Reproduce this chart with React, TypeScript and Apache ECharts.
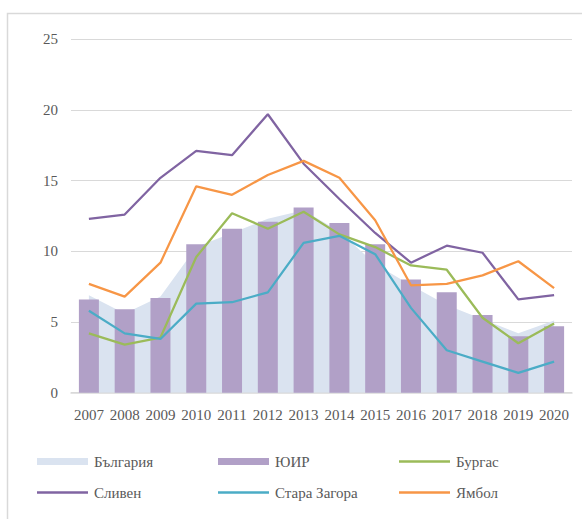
import React, { useEffect, useRef } from "react";
import * as echarts from "echarts";

const years = ["2007", "2008", "2009", "2010", "2011", "2012", "2013", "2014", "2015", "2016", "2017", "2018", "2019", "2020"];
const bulgaria = [6.9, 5.6, 6.8, 10.3, 11.3, 12.3, 12.9, 11.4, 9.1, 7.6, 6.2, 5.2, 4.2, 5.1];
const yuir = [6.6, 5.9, 6.7, 10.5, 11.6, 12.1, 13.1, 12.0, 10.5, 8.0, 7.1, 5.5, 4.0, 4.7];
const burgas = [4.2, 3.4, 3.9, 9.6, 12.7, 11.6, 12.8, 11.2, 10.3, 9.0, 8.7, 5.3, 3.5, 4.9];
const sliven = [12.3, 12.6, 15.2, 17.1, 16.8, 19.7, 16.2, 13.7, 11.3, 9.2, 10.4, 9.9, 6.6, 6.9];
const staraZagora = [5.8, 4.2, 3.8, 6.3, 6.4, 7.1, 10.6, 11.1, 9.8, 6.0, 3.0, 2.2, 1.4, 2.2];
const yambol = [7.7, 6.8, 9.2, 14.6, 14.0, 15.4, 16.4, 15.2, 12.2, 7.6, 7.7, 8.3, 9.3, 7.4];

const FONT = "Liberation Serif";
const TEXT = "#595959";
const GRID = "#d9d9d9";

const C_BG = "#dae3f0";
const C_YUIR = "#b1a0c7";
const C_BURGAS = "#9bbb59";
const C_SLIVEN = "#8064a2";
const C_SZ = "#4bacc6";
const C_YAMBOL = "#f79646";

const LINE_ICON = "path://M0,0H51V2.4H0Z";

export default function App() {
  const ref = useRef<HTMLDivElement>(null);
  useEffect(() => {
    if (!ref.current) return;
    const chart = echarts.init(ref.current, null, { renderer: "svg" });
    const legendBase = (name: string, left: number, top: number, icon: string) => ({
      left,
      top,
      orient: "horizontal",
      itemWidth: 51,
      itemHeight: 7,
      itemGap: 0,
      padding: 0,
      selectedMode: false,
      textStyle: { fontFamily: FONT, fontSize: 15, color: TEXT, fontWeight: "normal", padding: [0, 0, 0, 1] },
      data: [{ name, icon }],
    });
    const lineSeries = (name: string, data: number[], color: string) => ({
      name,
      type: "line",
      data,
      symbol: "none",
      color,
      itemStyle: { color },
      lineStyle: { width: 2.25, color },
      z: 3,
    });
    chart.setOption({
      animation: false,
      backgroundColor: "#ffffff",
      textStyle: { fontFamily: FONT },
      grid: { left: 71, right: 10, top: 39.3, bottom: 126.3, containLabel: false },
      graphic: [
        {
          type: "rect",
          shape: { x: 7.5, y: 13.5, width: 700, height: 700 },
          style: { fill: "none", stroke: GRID, lineWidth: 1.5 },
          silent: true,
        },
      ],
      legend: [
        legendBase("България", 37, 454, "rect"),
        legendBase("Сливен", 37, 485, LINE_ICON),
        legendBase("ЮИР", 218, 454, "rect"),
        legendBase("Стара Загора", 218, 485, LINE_ICON),
        legendBase("Бургас", 399, 454, LINE_ICON),
        legendBase("Ямбол", 399, 485, LINE_ICON),
      ],
      xAxis: {
        type: "category",
        data: years,
        boundaryGap: true,
        axisLine: { show: true, lineStyle: { color: GRID, width: 1.5 } },
        axisTick: { show: false },
        axisLabel: { fontFamily: FONT, fontSize: 15, color: TEXT, margin: 15, interval: 0 },
      },
      yAxis: {
        type: "value",
        min: 0,
        max: 25,
        interval: 5,
        axisLine: { show: false },
        axisTick: { show: false },
        splitLine: { lineStyle: { color: GRID, width: 1.2 } },
        axisLabel: { fontFamily: FONT, fontSize: 15, color: TEXT, margin: 13 },
      },
      series: [
        {
          name: "България",
          type: "line",
          data: bulgaria,
          symbol: "none",
          color: C_BG,
          itemStyle: { color: C_BG },
          lineStyle: { width: 0, color: C_BG },
          areaStyle: { color: C_BG, opacity: 1 },
          z: 1,
        },
        {
          name: "ЮИР",
          type: "bar",
          data: yuir,
          barWidth: 20,
          color: C_YUIR,
          itemStyle: { color: C_YUIR },
          z: 2,
        },
        lineSeries("Бургас", burgas, C_BURGAS),
        lineSeries("Сливен", sliven, C_SLIVEN),
        lineSeries("Стара Загора", staraZagora, C_SZ),
        lineSeries("Ямбол", yambol, C_YAMBOL),
      ],
    });
    return () => chart.dispose();
  }, []);
  return (
    <div
      ref={ref}
      style={{ position: "absolute", left: 0, top: 0, width: 582, height: 519, background: "#fff" }}
    />
  );
}
